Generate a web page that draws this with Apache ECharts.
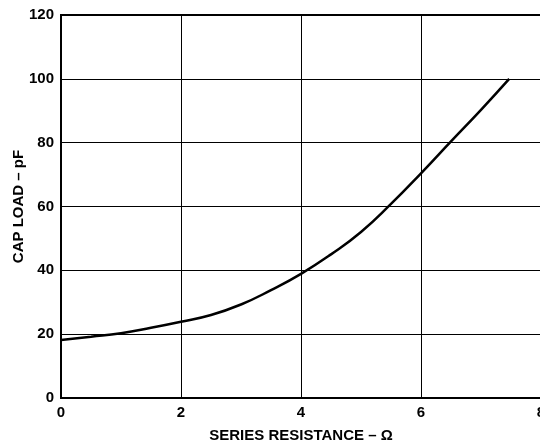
<!DOCTYPE html>
<html>
<head>
<meta charset="utf-8">
<script src="https://cdn.jsdelivr.net/npm/echarts@6/dist/echarts.min.js"></script>
<style>
  html, body { margin: 0; padding: 0; background: #fff; }
  #chart { width: 540px; height: 444px; }
</style>
</head>
<body>
<div id="chart"></div>
<script>
// series resistance (ohm) vs cap load (pF)
var resistance = [0, 0.5, 1, 1.5, 2, 2.5, 3, 3.5, 4, 4.5, 5, 5.5, 6, 6.5, 7, 7.47];
var capLoad = [18.2, 19.2, 20.3, 22, 23.9, 26, 29.3, 33.8, 38.9, 45, 52, 60.8, 70.4, 80.4, 90.3, 100];

var xTicks = [0, 2, 4, 6, 8];
var yTicks = [0, 20, 40, 60, 80, 100, 120];

var chart = echarts.init(document.getElementById('chart'));

var tickFont = {
  color: '#000',
  fontFamily: 'Liberation Sans, Arial, sans-serif',
  fontWeight: 'bold',
  fontSize: 15
};
var nameFont = {
  color: '#000',
  fontFamily: 'Liberation Sans, Arial, sans-serif',
  fontWeight: 'bold',
  fontSize: 15
};

var points = resistance.map(function (r, i) {
  return [r, capLoad[i]];
});

var option = {
  animation: false,
  grid: {
    left: 61,
    top: 15,
    width: 480,
    height: 383,
    outerBoundsMode: 'none',
    containLabel: false,
    show: true,
    borderColor: '#000',
    borderWidth: 2
  },
  xAxis: {
    type: 'value',
    min: xTicks[0],
    max: xTicks[xTicks.length - 1],
    interval: 2,
    name: 'SERIES RESISTANCE – Ω',
    nameLocation: 'middle',
    nameGap: 30,
    nameMoveOverlap: false,
    nameTextStyle: nameFont,
    axisLine: { show: true, lineStyle: { color: '#000', width: 2 } },
    axisTick: { show: false },
    axisLabel: Object.assign({ margin: 7 }, tickFont),
    splitLine: { show: true, lineStyle: { color: '#000', width: 1 } }
  },
  yAxis: {
    type: 'value',
    min: yTicks[0],
    max: yTicks[yTicks.length - 1],
    interval: 20,
    name: 'CAP LOAD – pF',
    nameLocation: 'middle',
    nameGap: 35,
    nameMoveOverlap: false,
    nameTextStyle: nameFont,
    axisLine: { show: true, lineStyle: { color: '#000', width: 2 } },
    axisTick: { show: false },
    axisLabel: Object.assign({ margin: 7 }, tickFont),
    splitLine: { show: true, lineStyle: { color: '#000', width: 1 } }
  },
  series: [{
    type: 'line',
    data: points,
    smooth: 0.5,
    showSymbol: false,
    lineStyle: { color: '#000', width: 2.5 }
  }]
};

chart.setOption(option);
</script>
</body>
</html>
